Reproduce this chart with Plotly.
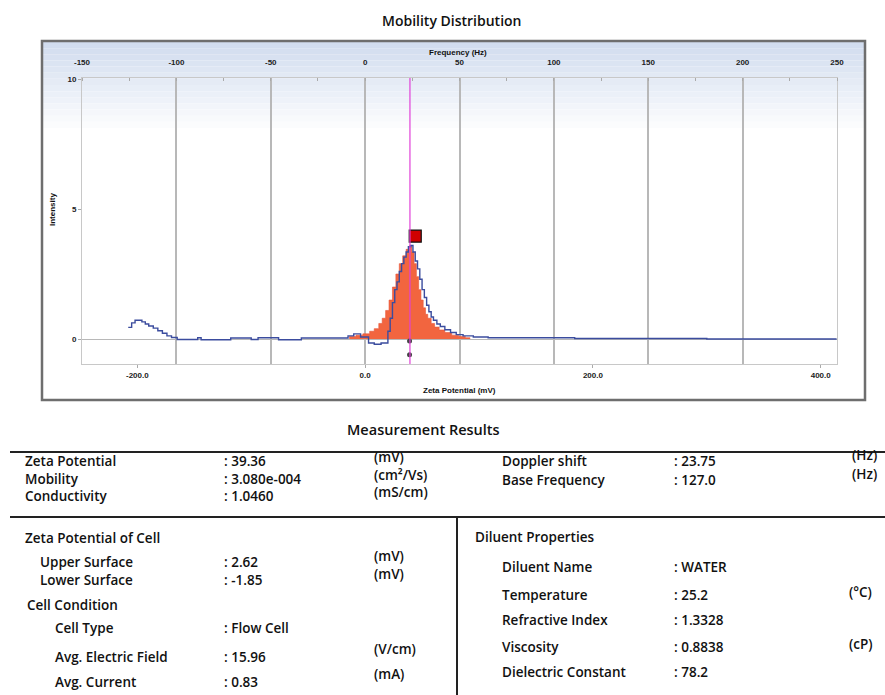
import plotly.graph_objects as go

# ---------------- data ----------------
HZ_TO_MV = 39.36 / 23.75
hz_range = [-150, 250]
hz_ticks = [-150, -100, -50, 0, 50, 100, 150, 200, 250]
hz_ticklabels = ["-150", "-100", "-50", "0", "50", "100", "150", "200", "250"]
mv_ticks = [-200, 0, 200, 400]
mv_ticklabels = ["-200.0", "0.0", "200.0", "400.0"]
y_ticks = [0, 5, 10]

# blue mobility distribution curve (zeta potential mV, intensity)
blue_mv = [-208, -205, -202, -199, -196, -193, -190, -186, -182, -178, -174, -170, -165,
           -147, -144, -118, -100, -94, -76, -56, -15, -10, -4, 3, 8, 14, 20,
           22, 24, 26, 28, 30, 32, 34, 36, 38, 40, 42, 44, 46, 48, 50, 52, 54, 56, 58,
           60, 63, 66, 70, 75, 80, 86, 95, 108, 184, 300, 414]
blue_int = [0.45, 0.62, 0.72, 0.72, 0.66, 0.58, 0.50, 0.42, 0.32, 0.22, 0.12, 0.06, -0.02,
            0.05, -0.03, 0.04, -0.02, 0.05, -0.03, 0.04, 0.12, 0.20, 0.08, -0.15, -0.2, -0.15, 0.3,
            0.8, 1.4, 1.9, 2.2, 2.6, 2.9, 3.15, 3.35, 3.55, 3.6, 3.35, 3.0, 2.7, 2.3, 1.9, 1.6, 1.3, 1.05, 0.85,
            0.72, 0.58, 0.48, 0.36, 0.25, 0.17, 0.12, 0.08, 0.05, 0.02, 0.0, 0.0]

# filled histogram under peak
fill_mv = [-14, -8, -2, 4, 8, 12, 15, 18, 21, 24, 27, 30, 33, 36, 39, 41, 43, 45, 47, 49,
           51, 53, 55, 58, 61, 65, 70, 76, 82, 88, 92]
fill_int = [0.1, 0.15, 0.2, 0.3, 0.4, 0.6, 0.8, 1.1, 1.5, 2.0, 2.5, 2.9, 3.2, 3.45, 3.6, 3.35, 2.9, 2.4, 1.9, 1.5,
            1.2, 0.95, 0.8, 0.6, 0.46, 0.35, 0.25, 0.15, 0.1, 0.05, 0.0]

zeta_peak = 39.36
marker_mv = [44]
marker_int = [3.96]
small_mv = [39, 39]
small_int = [-0.08, -0.6]

# table content
top_left_labels = ["Zeta Potential", "Mobility", "Conductivity"]
top_left_values = [": 39.36", ": 3.080e-004", ": 1.0460"]
top_left_units = ["(mV)", "(cm²/Vs)", "(mS/cm)"]
top_right_rows = [("Doppler shift", ": 23.75", "(Hz)"),
                  ("Base Frequency", ": 127.0", "(Hz)")]
cell_rows = [("Upper Surface", ": 2.62"),
             ("Lower Surface", ": -1.85")]
cell_units = ["(mV)", "(mV)"]
cond_rows = [("Cell Type", ": Flow Cell", ""),
             ("Avg. Electric Field", ": 15.96", "(V/cm)"),
             ("Avg. Current", ": 0.83", "(mA)")]
diluent_rows = [("Diluent Name", ": WATER", ""),
                ("Temperature", ": 25.2", "(°C)"),
                ("Refractive Index", ": 1.3328", ""),
                ("Viscosity", ": 0.8838", "(cP)"),
                ("Dielectric Constant", ": 78.2", "")]

# ---------------- layout helpers ----------------
W, H = 885, 695
L, R, T, B = 82, 837, 78, 364
def px(x):
    return (x - L) / (R - L)
def py(y):
    return (B - y) / (B - T)

FONT = "Open Sans"
TXT = "#111111"
FS = 13.5

fig = go.Figure()

fig.add_trace(go.Scatter(x=fill_mv, y=fill_int, mode="lines", line_shape="hv",
                         line=dict(color="#E8553A", width=0.6), fill="tozeroy",
                         fillcolor="#F2653F", hoverinfo="skip", showlegend=False))
fig.add_trace(go.Scatter(x=blue_mv, y=blue_int, mode="lines", line_shape="hv",
                         line=dict(color="#3B4C9E", width=1.4), showlegend=False))
fig.add_trace(go.Scatter(x=marker_mv, y=marker_int, mode="markers",
                         marker=dict(symbol="square", size=12, color="#D00000",
                                     line=dict(color="#111", width=1.2)), showlegend=False))
fig.add_trace(go.Scatter(x=small_mv, y=small_int, mode="markers",
                         marker=dict(symbol="circle", size=5, color="#444"), showlegend=False))
# dummy trace for top (Hz) axis
fig.add_trace(go.Scatter(x=hz_range, y=[None, None], xaxis="x2", mode="lines", showlegend=False))

shapes = []
# panel gradient background
g0 = (210, 221, 239)
n = 14
y_top, y_end = 42, 128
for i in range(n):
    ya = y_top + (y_end - y_top) * i / n
    yb = y_top + (y_end - y_top) * (i + 1) / n
    f = i / n
    c = tuple(int(g0[k] + (255 - g0[k]) * f) for k in range(3))
    shapes.append(dict(type="rect", xref="paper", yref="paper", x0=px(43), x1=px(865),
                       y0=py(yb), y1=py(ya), fillcolor="rgb(%d,%d,%d)" % c,
                       line=dict(width=0), layer="below"))
# panel border
shapes.append(dict(type="rect", xref="paper", yref="paper", x0=px(42), x1=px(865),
                   y0=py(400), y1=py(41), line=dict(color="#6e6e6e", width=2.5)))
# magenta zeta line
shapes.append(dict(type="line", xref="x", yref="paper", x0=zeta_peak, x1=zeta_peak,
                   y0=0, y1=1, line=dict(color="#E040D8", width=1.2)))
# table rules
shapes.append(dict(type="line", xref="paper", yref="paper", x0=px(10), x1=px(885),
                   y0=py(452), y1=py(452), line=dict(color="#222", width=2)))
shapes.append(dict(type="line", xref="paper", yref="paper", x0=px(10), x1=px(885),
                   y0=py(517), y1=py(517), line=dict(color="#222", width=2)))
shapes.append(dict(type="line", xref="paper", yref="paper", x0=px(457), x1=px(457),
                   y0=py(517), y1=py(695), line=dict(color="#222", width=2)))

ann = []
def text(x, y, s, size=FS, anchor="left", color=TXT, angle=0, family=FONT, weight=600):
    ann.append(dict(x=px(x), y=py(y), xref="paper", yref="paper", text=s, showarrow=False,
                    xanchor=anchor, yanchor="middle", textangle=angle, align="left",
                    font=dict(family=family, size=size, color=color, weight=weight)))

text(452, 20, "Mobility Distribution", size=14, anchor="center")
text(458, 52, "Frequency (Hz)", size=8, anchor="center", family="Liberation Sans", weight="bold")
text(459, 390, "Zeta Potential (mV)", size=8, anchor="center", family="Liberation Sans", weight="bold")
text(52, 210, "Intensity", size=8, anchor="center", angle=-90, family="Liberation Sans", weight="bold")
text(423, 429, "Measurement Results", size=14.5, anchor="center")

# top block: multi-line columns (line spacing matches the tight rows)
text(23, 478, "<br>".join(top_left_labels))
text(222, 478, "<br>".join(top_left_values))
text(372, 474, "<br>".join(top_left_units))
for i, (a, b, c) in enumerate(top_right_rows):
    y = 461 + i * 19
    text(500, y, a); text(672, y, b); text(850, y - 6, c)

text(23, 538, "Zeta Potential of Cell")
for i, (a, b) in enumerate(cell_rows):
    y = 562 + i * 18
    text(38, y, a); text(222, y, b)
text(372, 565, "<br>".join(cell_units))
text(25, 605, "Cell Condition")
cond_y = [628, 657, 682]
for (a, b, c), y in zip(cond_rows, cond_y):
    text(53, y, a); text(222, y, b)
    if c:
        text(372, y - 8, c)
text(473, 537, "Diluent Properties")
dil_y = [567, 595, 620, 647, 672]
for (a, b, c), y in zip(diluent_rows, dil_y):
    text(500, y, a); text(672, y, b)
    if c:
        text(847, y - 3, c)

tickfont = dict(family="Liberation Sans", size=8, color="#222", weight="bold")
fig.update_layout(
    width=W, height=H,
    margin=dict(l=L, r=W - R, t=T, b=H - B, pad=0),
    paper_bgcolor="white", plot_bgcolor="rgba(0,0,0,0)",
    shapes=shapes, annotations=ann, showlegend=False,
    xaxis=dict(range=[hz_range[0] * HZ_TO_MV, hz_range[1] * HZ_TO_MV],
               tickvals=mv_ticks, ticktext=mv_ticklabels, ticks="outside", ticklen=3,
               tickcolor="#aaa", showgrid=False, zeroline=False, showline=True,
               linecolor="#c8c8c8", linewidth=1, tickfont=tickfont),
    xaxis2=dict(range=hz_range, overlaying="x", side="top", tickvals=hz_ticks,
                ticktext=hz_ticklabels,
                showgrid=True, gridcolor="#b8b8b8", gridwidth=1.5, zeroline=False,
                showline=True, linecolor="#c8c8c8", ticks="", tickfont=tickfont,
                ticklabelstandoff=9,
                minor=dict(dtick=25, tick0=0, ticks="inside", ticklen=3, tickcolor="#aaa",
                           showgrid=False)),
    yaxis=dict(range=[-0.96, 10.04], tickvals=y_ticks, ticks="outside", ticklen=3,
               tickcolor="#aaa", showgrid=False, zeroline=True, zerolinecolor="#b8b8b8",
               zerolinewidth=1, showline=True, linecolor="#c8c8c8", mirror=True,
               tickfont=tickfont),
)

fig.write_html("out.html", config={"displayModeBar": False},
               post_script="document.body.style.margin='0';document.body.style.overflow='hidden';")
